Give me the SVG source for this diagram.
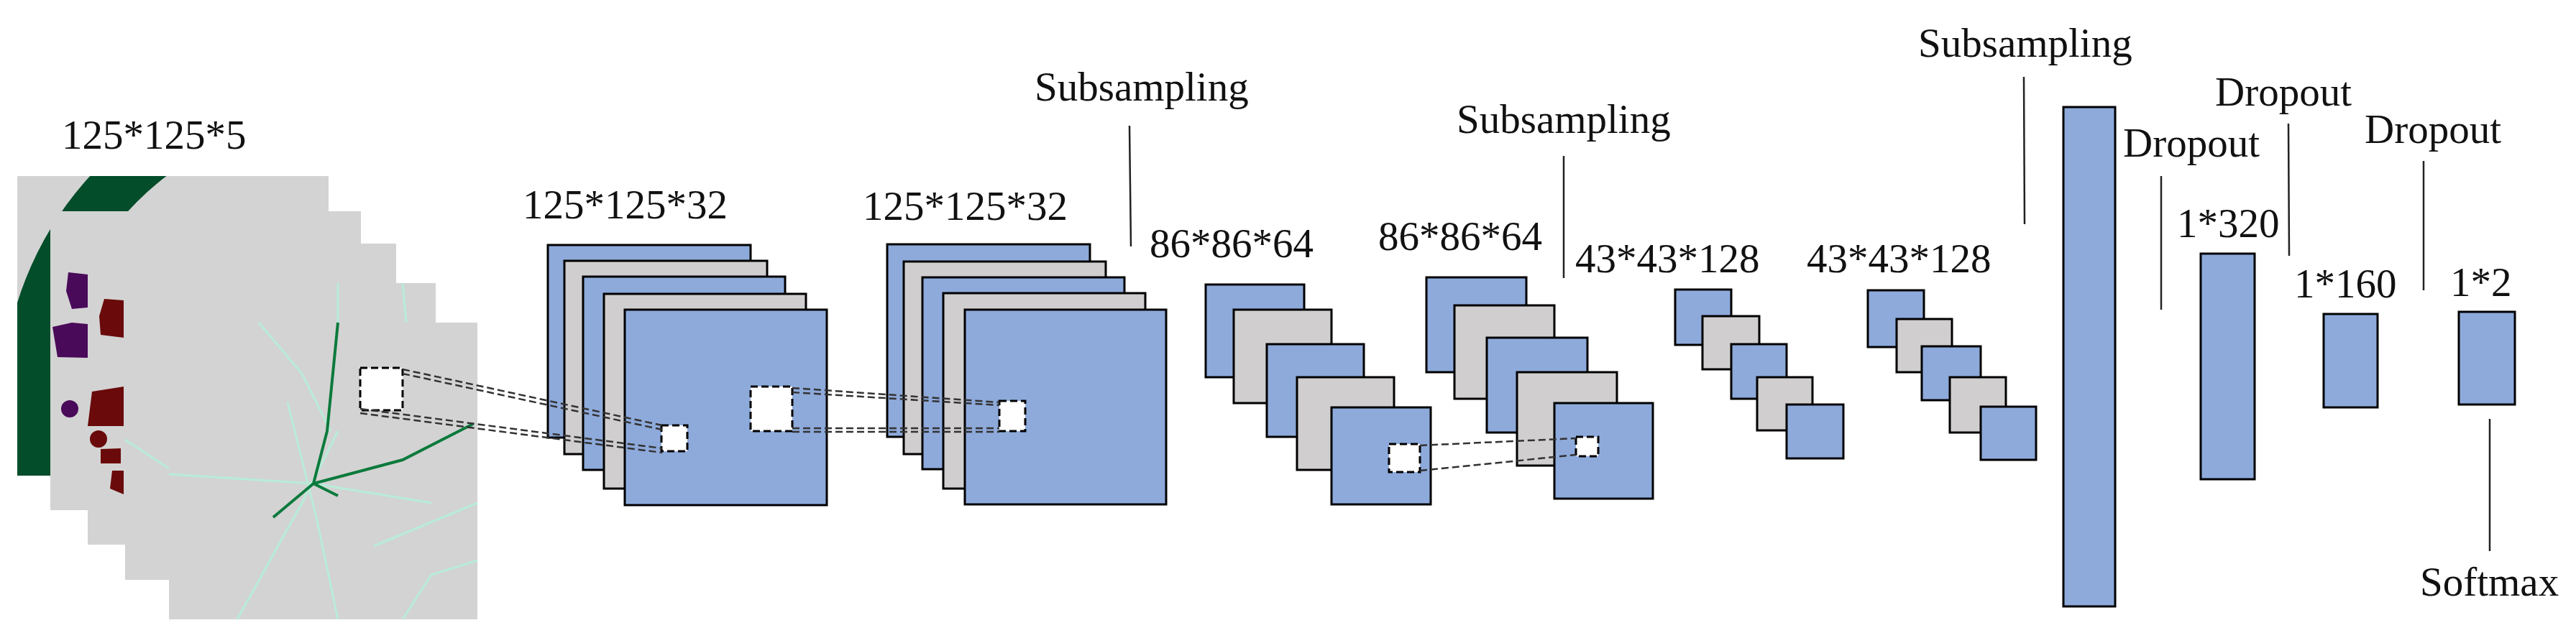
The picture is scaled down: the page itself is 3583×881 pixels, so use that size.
<svg xmlns="http://www.w3.org/2000/svg" width="3583" height="881" viewBox="0 0 3583 881">
<style>
text{font-family:"Liberation Serif","Tinos","Times New Roman","DejaVu Serif",serif;font-size:57px;fill:#111}
.b{fill:#8eaadb;stroke:#000;stroke-width:3}
.g{fill:#d0cece;stroke:#000;stroke-width:3}
.img{fill:#d3d3d3}
.w{fill:#fff;stroke:#000;stroke-width:3;stroke-dasharray:10 5}
.d{fill:none;stroke:#333;stroke-width:2.5;stroke-dasharray:10 5}
.ln{stroke:#222;stroke-width:2.5}
.v1{fill:none;stroke:#b8ecd8;stroke-width:3}
.v2{fill:none;stroke:#0b7a3c;stroke-width:4}
</style>
<defs>
<clipPath id="c1"><rect x="24" y="245" width="433" height="417"/></clipPath>
</defs>
<g id="input">
<rect class="img" x="24" y="245" width="433" height="417"/>
<circle cx="470" cy="560" r="431" fill="none" stroke="#034d2a" stroke-width="72" clip-path="url(#c1)"/>
<rect class="img" x="70" y="294" width="432" height="416"/>
<path d="M95 379 L122 382 L122 428 L100 430 L92 405Z M73 455 L100 449 L122 451 L122 498 L80 497Z" fill="#4a0a5a"/>
<circle cx="97" cy="569" r="12" fill="#4a0a5a"/>
<rect class="img" x="122" y="339" width="429" height="419"/>
<path d="M145 416 L172 418 L172 470 L140 466 L138 440Z M128 545 L172 538 L172 593 L122 593Z M140 625 L168 624 L168 645 L140 645Z M156 655 L172 655 L172 688 L153 680Z" fill="#6a0a0a"/>
<circle cx="137" cy="611" r="12" fill="#6a0a0a"/>
<rect class="img" x="174" y="394" width="432" height="413"/>
<path class="v1" d="M174 612 L235 652 M470 394 L470 449 M560 394 L565 449"/>
<rect class="img" x="235" y="449" width="429" height="413"/>
<path class="v1" d="M360 449 L420 520 L460 600 M235 660 L436 673 L600 700 M330 862 L420 700 L470 600 M470 862 L440 720 L400 560 M520 760 L664 700 M560 862 L600 800 L664 780"/>
<path class="v2" d="M470 449 L455 600 L436 673 M436 673 L560 640 L658 590 M436 673 L380 720 M436 673 L470 690"/>
<rect class="w" x="501" y="512" width="59" height="59"/>
<text x="86" y="207">125*125*5</text>
</g>
<g id="conv1">
<rect class="b" x="762" y="341" width="282" height="268"/>
<rect class="g" x="785" y="363" width="282" height="269"/>
<rect class="b" x="811" y="385" width="281" height="269"/>
<rect class="g" x="840" y="409" width="281" height="271"/>
<rect class="b" x="869" y="431" width="281" height="272"/>
<rect class="w" x="920" y="592" width="36" height="36"/>
<rect class="w" x="1044" y="538" width="58" height="62"/>
<text x="727" y="304">125*125*32</text>
</g>
<g id="conv2">
<rect class="b" x="1234" y="340" width="282" height="268"/>
<rect class="g" x="1257" y="364" width="281" height="268"/>
<rect class="b" x="1283" y="386" width="281" height="267"/>
<rect class="g" x="1312" y="408" width="281" height="272"/>
<rect class="b" x="1342" y="431" width="280" height="271"/>
<rect class="w" x="1390" y="558" width="36" height="42"/>
<text x="1200" y="306">125*125*32</text>
</g>
<g id="sub1">
<line class="ln" x1="1571" y1="175" x2="1573" y2="343"/>
<text x="1439" y="140">Subsampling</text>
</g>
<g id="conv3">
<rect class="b" x="1677" y="396" width="137" height="129"/>
<rect class="g" x="1716" y="431" width="136" height="130"/>
<rect class="b" x="1762" y="479" width="135" height="129"/>
<rect class="g" x="1804" y="525" width="135" height="129"/>
<rect class="b" x="1852" y="567" width="138" height="135"/>
<rect class="w" x="1932" y="618" width="43" height="39"/>
<text x="1599" y="358">86*86*64</text>
</g>
<g id="conv4">
<rect class="b" x="1984" y="386" width="139" height="132"/>
<rect class="g" x="2023" y="425" width="139" height="130"/>
<rect class="b" x="2068" y="470" width="140" height="132"/>
<rect class="g" x="2110" y="518" width="139" height="130"/>
<rect class="b" x="2162" y="561" width="137" height="133"/>
<rect class="w" x="2192" y="608" width="31" height="27"/>
<text x="1917" y="348">86*86*64</text>
</g>
<g id="sub2">
<line class="ln" x1="2175" y1="217" x2="2175" y2="387"/>
<text x="2026" y="185">Subsampling</text>
</g>
<g id="conv5">
<rect class="b" x="2330" y="403" width="78" height="77"/>
<rect class="g" x="2368" y="440" width="79" height="74"/>
<rect class="b" x="2408" y="479" width="77" height="76"/>
<rect class="g" x="2444" y="525" width="77" height="74"/>
<rect class="b" x="2485" y="563" width="79" height="75"/>
<text x="2191" y="379">43*43*128</text>
</g>
<g id="conv6">
<rect class="b" x="2598" y="404" width="78" height="79"/>
<rect class="g" x="2638" y="444" width="77" height="74"/>
<rect class="b" x="2673" y="482" width="82" height="75"/>
<rect class="g" x="2712" y="525" width="78" height="77"/>
<rect class="b" x="2755" y="566" width="77" height="74"/>
<text x="2513" y="379">43*43*128</text>
</g>
<g id="sub3">
<line class="ln" x1="2815" y1="107" x2="2816" y2="312"/>
<text x="2668" y="79">Subsampling</text>
</g>
<g id="flat"><rect class="b" x="2870" y="149" width="72" height="695"/></g>
<g id="drop1">
<line class="ln" x1="3006" y1="245" x2="3006" y2="431"/>
<text x="2953" y="218">Dropout</text>
</g>
<g id="fc320">
<rect class="b" x="3061" y="353" width="75" height="314"/>
<text x="3028" y="330">1*320</text>
</g>
<g id="drop2">
<line class="ln" x1="3183" y1="172" x2="3184" y2="356"/>
<text x="3081" y="147">Dropout</text>
</g>
<g id="fc160">
<rect class="b" x="3232" y="437" width="75" height="130"/>
<text x="3191" y="414">1*160</text>
</g>
<g id="drop3">
<line class="ln" x1="3371" y1="224" x2="3371" y2="404"/>
<text x="3289" y="199">Dropout</text>
</g>
<g id="out">
<rect class="b" x="3420" y="434" width="78" height="129"/>
<text x="3408" y="412">1*2</text>
</g>
<g id="softmax">
<line class="ln" x1="3463" y1="583" x2="3463" y2="767"/>
<text x="3366" y="829">Softmax</text>
</g>
<g id="connectors">
<path class="d" d="M560 514 L921 592 M560 520 L921 598 M501 569 L921 624 M501 575 L921 630"/>
<path class="d" d="M1102 540 L1390 560 M1102 546 L1390 564 M1102 596 L1390 596 M1102 601 L1390 601"/>
<path class="d" d="M1975 620 L2192 610 M1975 655 L2192 633"/>
</g>
</svg>
